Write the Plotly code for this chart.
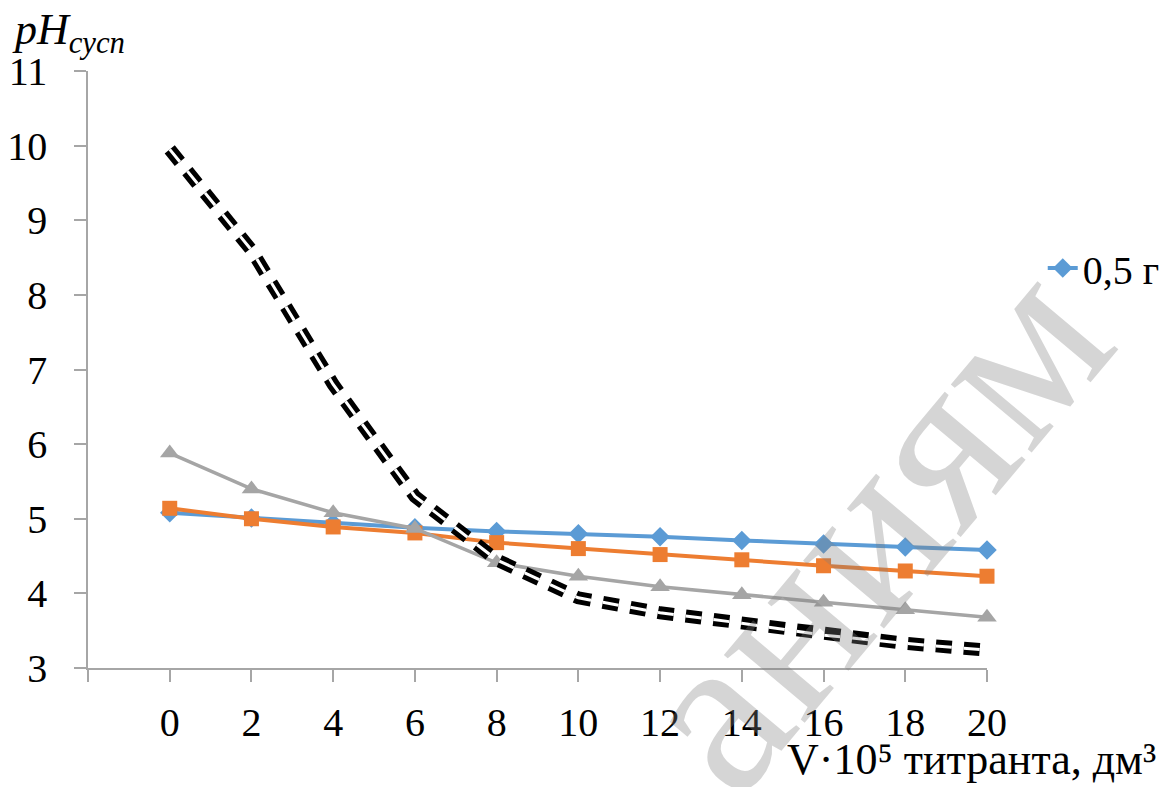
import plotly.graph_objects as go

x_vals = [0, 2, 4, 6, 8, 10, 12, 14, 16, 18, 20]
s_05 = [5.08, 5.01, 4.94, 4.88, 4.83, 4.80, 4.76, 4.71, 4.66, 4.62, 4.58]
s_orange = [5.14, 5.00, 4.89, 4.81, 4.68, 4.60, 4.52, 4.45, 4.37, 4.30, 4.23]
s_gray = [5.88, 5.40, 5.08, 4.87, 4.41, 4.23, 4.09, 3.98, 3.88, 3.78, 3.68]
s_black = [9.95, 8.60, 6.80, 5.30, 4.45, 3.94, 3.74, 3.60, 3.44, 3.33, 3.24]

tick_vals = [-2, 0, 2, 4, 6, 8, 10, 12, 14, 16, 18, 20]
tick_text = [""] + [str(v) for v in x_vals]

SERIF = "Liberation Serif, Times New Roman, serif"
AXIS_COLOR = "#A6A6A6"
TICK_SIZE = 40

fig = go.Figure()
fig.add_trace(go.Scatter(
    x=x_vals, y=s_05, name="0,5 г", mode="lines+markers",
    line=dict(color="#5B9BD5", width=4),
    marker=dict(symbol="diamond", size=15, color="#5B9BD5"),
    cliponaxis=False,
))
fig.add_trace(go.Scatter(
    x=x_vals, y=s_orange, name="s2", mode="lines+markers", showlegend=False,
    line=dict(color="#ED7D31", width=4),
    marker=dict(symbol="square", size=15, color="#ED7D31"),
    cliponaxis=False,
))
fig.add_trace(go.Scatter(
    x=x_vals, y=s_gray, name="s3", mode="lines+markers", showlegend=False,
    line=dict(color="#A5A5A5", width=3.5),
    marker=dict(symbol="triangle-up", size=17, color="#A5A5A5"),
    cliponaxis=False,
))
fig.add_trace(go.Scatter(
    x=x_vals, y=s_black, name="s4", mode="lines", showlegend=False,
    line=dict(color="black", width=13, dash="16px,12px"),
    cliponaxis=False,
))
fig.add_trace(go.Scatter(
    x=x_vals, y=s_black, name="s4w", mode="lines", showlegend=False,
    line=dict(color="white", width=3, dash="16px,12px"),
    cliponaxis=False, hoverinfo="skip",
))

fig.update_layout(
    width=1176, height=787,
    margin=dict(l=88, r=189, t=71, b=119, autoexpand=False),
    paper_bgcolor="white", plot_bgcolor="white",
    font=dict(family=SERIF, size=TICK_SIZE, color="black"),
    showlegend=True,
    legend=dict(x=1.062, y=0.67, xanchor="left", yanchor="middle",
                font=dict(family=SERIF, size=40, color="black"),
                bgcolor="rgba(0,0,0,0)"),
    xaxis=dict(range=[-2, 20], tickvals=tick_vals, ticktext=tick_text,
               showgrid=False, zeroline=False, showline=True, automargin=False,
               linecolor=AXIS_COLOR, linewidth=1.5,
               ticks="outside", ticklen=12, tickcolor=AXIS_COLOR, tickwidth=1.5,
               ticklabelstandoff=6,
               tickfont=dict(family=SERIF, size=TICK_SIZE, color="black")),
    yaxis=dict(range=[3, 11], dtick=1, tick0=3,
               showgrid=False, zeroline=False, showline=True, automargin=False,
               linecolor=AXIS_COLOR, linewidth=1.5,
               ticks="outside", ticklen=12, tickcolor=AXIS_COLOR, tickwidth=1.5,
               ticklabelstandoff=19,
               tickfont=dict(family=SERIF, size=TICK_SIZE, color="black")),
)

fig.add_annotation(
    text="<i>pH<sub>сусп</sub></i>", xref="paper", yref="paper",
    x=-0.087, y=1.0, xanchor="left", yanchor="bottom", yshift=9,
    showarrow=False, font=dict(family=SERIF, size=44, color="black"),
)
fig.add_annotation(
    text="V·10⁵ титранта, дм³", xref="paper", yref="paper",
    x=1.19, y=-0.197, xanchor="right", yanchor="bottom",
    showarrow=False, font=dict(family=SERIF, size=44, color="black"),
)
fig.add_annotation(
    text="аниям", xref="paper", yref="paper",
    x=0.87, y=0.24, xanchor="center", yanchor="middle", textangle=-50,
    showarrow=False, font=dict(family=SERIF, size=230, color="rgba(128,128,128,0.33)"),
)

fig.write_html("out.html")
